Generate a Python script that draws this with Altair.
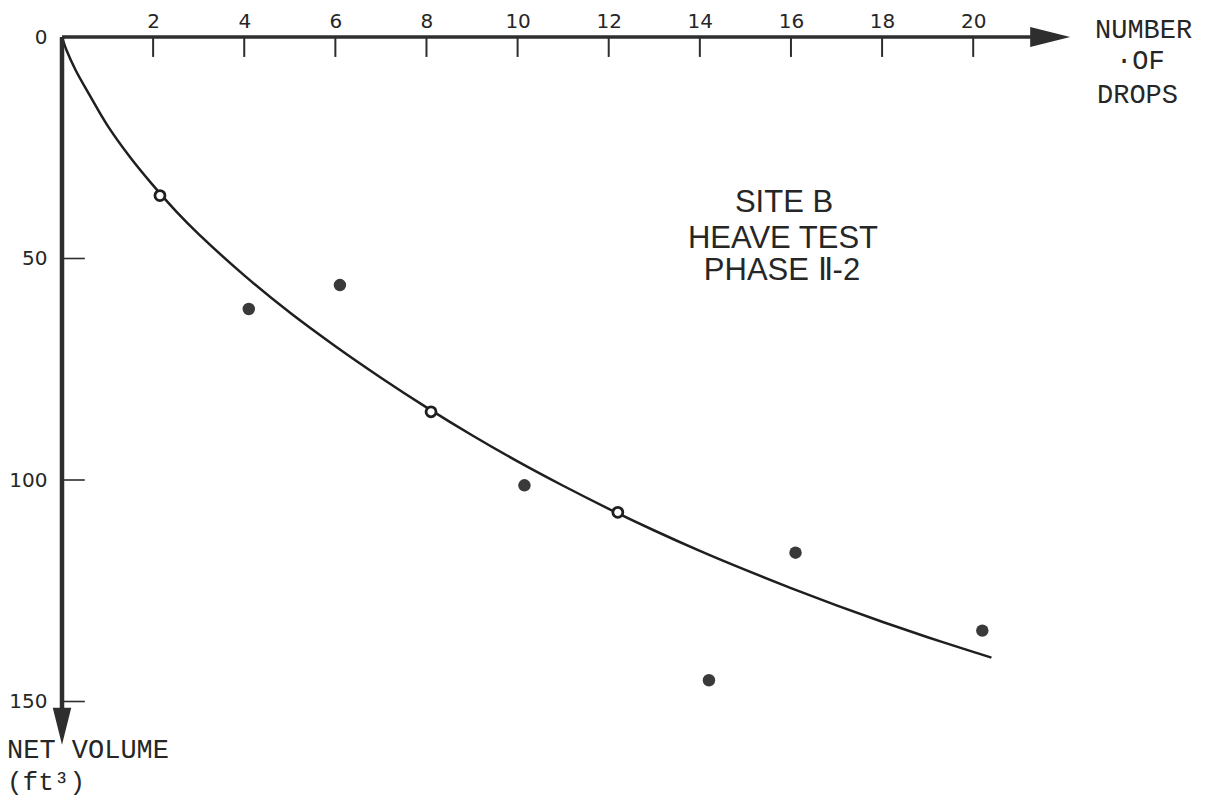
import altair as alt
import pandas as pd

# ---------------- data ----------------
curve_x = [0, 0.1, 0.3, 0.6, 1.0, 1.5, 2.0, 2.5, 3, 4, 5, 6, 7, 8, 9, 10,
           11, 12, 13, 14, 15, 16, 17, 18, 19, 20, 20.4]
curve_y = [0, 3, 7.5, 13, 20, 27.2, 33.5, 39.3, 44.5, 53.8, 62.2, 69.8, 76.9,
           83.6, 89.9, 95.8, 101.3, 106.5, 111.4, 116.0, 120.3, 124.4, 128.3,
           132.0, 135.5, 138.8, 140.1]

open_x = [2.15, 8.1, 12.2]
open_y = [35.8, 84.6, 107.3]

filled_x = [4.1, 6.1, 10.15, 14.2, 16.1, 20.2]
filled_y = [61.4, 56.0, 101.2, 145.2, 116.4, 134.0]

x_ticks = [2, 4, 6, 8, 10, 12, 14, 16, 18, 20]
y_ticks = [0, 50, 100, 150]
y_minor = [50, 100, 150]

# ---------------- layout ----------------
W, H = 1213, 802
PAD_L, PAD_T = 62, 37
PX_X, PX_Y = 45.56, 4.43
plot_w = W - PAD_L
plot_h = H - PAD_T

INK = "#2e2e2e"
LBL = "#262626"
TICKFONT = "DejaVu Sans"

xs = alt.Scale(domain=[0, plot_w / PX_X], nice=False, zero=False)
ys = alt.Scale(domain=[0, plot_h / PX_Y], nice=False, zero=False, reverse=True)

xa = alt.Axis(orient="top", values=x_ticks, domain=False, ticks=False, grid=False,
              labelPadding=6, labelFont=TICKFONT, labelFontSize=20,
              labelColor=LBL, title=None, labelFlush=False)
ya = alt.Axis(orient="left", values=y_ticks, domain=False, ticks=False, grid=False,
              labelPadding=15, labelFont=TICKFONT, labelFontSize=20,
              labelColor=LBL, title=None, labelFlush=False)


def X(f):
    return alt.X(f, type="quantitative", scale=xs, axis=xa)


def Y(f):
    return alt.Y(f, type="quantitative", scale=ys, axis=ya)


curve_df = pd.DataFrame({"x": curve_x, "y": curve_y})
open_df = pd.DataFrame({"x": open_x, "y": open_y})
filled_df = pd.DataFrame({"x": filled_x, "y": filled_y})

# axis lines
xline = alt.Chart(pd.DataFrame({"x": [0], "x2": [21.3], "y": [0]})).mark_rule(
    color=INK, strokeWidth=3.5).encode(x=X("x"), x2="x2", y=Y("y"))
yline = alt.Chart(pd.DataFrame({"x": [0], "y": [0], "y2": [154]})).mark_rule(
    color=INK, strokeWidth=4.5).encode(x=X("x"), y=Y("y"), y2="y2")

# tick marks drawn inside the plot
xt = alt.Chart(pd.DataFrame({"x": x_ticks})).transform_calculate(
    y0="0", y1="4.5").mark_rule(color=INK, strokeWidth=2).encode(
    x=X("x"), y=Y("y0"), y2="y1:Q")
yt = alt.Chart(pd.DataFrame({"y": y_minor})).transform_calculate(
    x0="0", x1="0.5").mark_rule(color=INK, strokeWidth=1.6).encode(
    y=Y("y"), x=X("x0"), x2="x1:Q")

# arrowheads
xarrow = alt.Chart(pd.DataFrame({"x": [21.69], "y": [0]})).mark_point(
    shape="M-1,-0.5L1,0L-1,0.5Z", size=1600, filled=True, color=INK,
    opacity=1, strokeWidth=0).encode(x=X("x"), y=Y("y"))
yarrow = alt.Chart(pd.DataFrame({"x": [0], "y": [155.6]})).mark_point(
    shape="M-0.5,-1L0.5,-1L0,1Z", size=1369, filled=True, color=INK,
    opacity=1, strokeWidth=0).encode(x=X("x"), y=Y("y"))

curve = alt.Chart(curve_df).mark_line(
    interpolate="catmull-rom", color="#1f1f1f", strokeWidth=2.5).encode(
    x=X("x"), y=Y("y"))

open_pts = alt.Chart(open_df).mark_point(
    shape="circle", size=100, filled=False, color="#1f1f1f", fill="white",
    fillOpacity=1, opacity=1, strokeWidth=2.8).encode(x=X("x"), y=Y("y"))

filled_pts = alt.Chart(filled_df).mark_point(
    shape="circle", size=155, filled=True, color="#3a3a3a", opacity=1,
    strokeWidth=0).encode(x=X("x"), y=Y("y"))


def txt(text, px, py, font, size, align="left", color=LBL):
    return alt.Chart(pd.DataFrame({"t": [text]})).mark_text(
        font=font, fontSize=size, align=align, baseline="alphabetic",
        color=color).encode(x=alt.value(px - PAD_L), y=alt.value(py - PAD_T),
                            text="t:N")


MONO = "Liberation Mono"
SANS = "Liberation Sans"
texts = [
    txt("NUMBER", 1095, 38, MONO, 27),
    txt("\u00b7OF", 1116, 69, MONO, 27),
    txt("DROPS", 1097, 103, MONO, 27),
    txt("NET VOLUME", 7, 758, MONO, 27),
    txt("(ft\u00b3)", 7, 790, MONO, 26),
    txt("SITE B", 784, 212, SANS, 31, align="center"),
    txt("HEAVE TEST", 783, 248, SANS, 31, align="center"),
    txt("PHASE \u2161-2", 782, 280, SANS, 31, align="center"),
]

chart = alt.layer(
    curve, xline, yline, xt, yt, xarrow, yarrow, open_pts, filled_pts, *texts
).properties(
    width=plot_w, height=plot_h,
    autosize=alt.AutoSizeParams(type="none"),
    padding={"left": PAD_L, "top": PAD_T, "right": 0, "bottom": 0},
    background="white",
).configure_view(strokeWidth=0).configure_axis(
    labelFont=TICKFONT, labelFontSize=20, labelColor=LBL
)

chart.save("out.html", embed_options={"renderer": "svg", "actions": False})
